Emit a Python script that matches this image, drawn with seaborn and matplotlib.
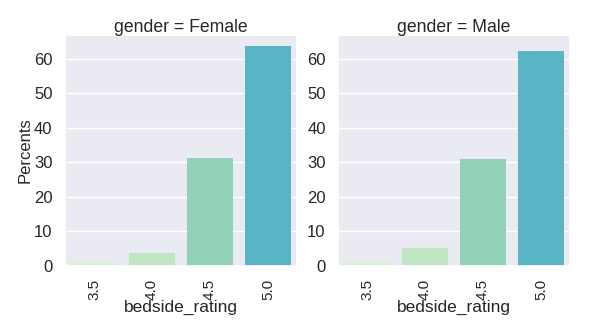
import matplotlib
matplotlib.use("Agg")
import matplotlib.pyplot as plt
import seaborn as sns
import pandas as pd

ratings = ["3.5", "4.0", "4.5", "5.0"]
female_pct = [1.35, 3.6, 31.3, 63.75]
male_pct = [1.45, 5.2, 31.0, 62.35]
genders = ["Female", "Male"]
bar_colors = ["#dcf0da", "#c0e6c3", "#90d1b8", "#59b4c5"]

sns.set_theme(style="darkgrid")
plt.rcParams["font.family"] = ["Liberation Sans", "DejaVu Sans"]

df = pd.DataFrame({
    "bedside_rating": ratings * 2,
    "Percents": female_pct + male_pct,
    "gender": ["Female"] * 4 + ["Male"] * 4,
})

fig, axes = plt.subplots(1, 2, figsize=(5.92, 3.25), dpi=100, sharey=True)
fig.subplots_adjust(left=0.11, right=0.963, top=0.892, bottom=0.182, wspace=0.177)

for ax, g in zip(axes, genders):
    sub = df[df["gender"] == g]
    sns.barplot(data=sub, x="bedside_rating", y="Percents", hue="bedside_rating",
                order=ratings, hue_order=ratings, palette=bar_colors,
                saturation=1, legend=False, linewidth=0, ax=ax)
    ax.set_title(f"gender = {g}", fontsize=12.7, pad=2.5)
    ax.tick_params(axis="x", rotation=90, labelsize=11, pad=3.5)
    ax.tick_params(axis="y", labelsize=12, labelleft=True, pad=3)
    ax.set_xlabel("bedside_rating", fontsize=12.5, labelpad=0)
    ax.set_yticks([0, 10, 20, 30, 40, 50, 60])

axes[0].set_ylabel("Percents", fontsize=12, labelpad=1)
axes[1].set_ylabel("")

fig.savefig("out.png", dpi=100)
